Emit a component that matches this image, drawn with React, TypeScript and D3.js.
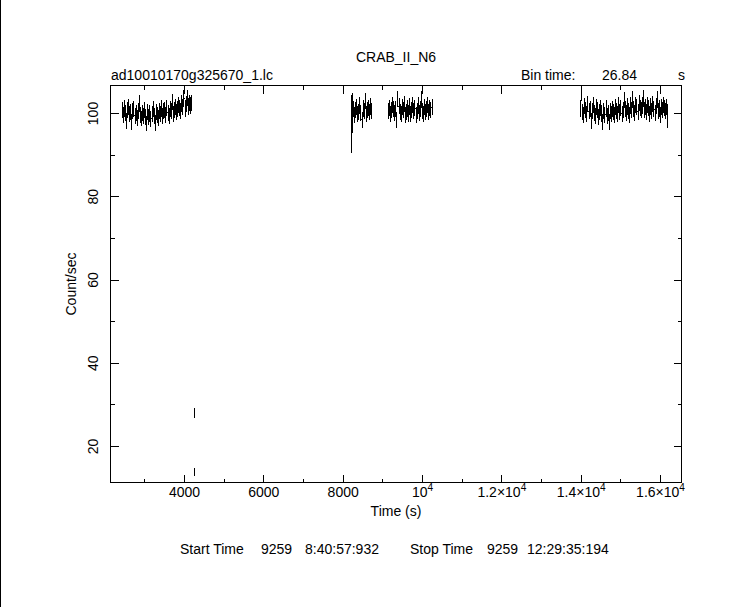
import React from "react";
import * as d3 from "d3";

const binTime = 26.84;

// segment start times (s) and count rates (count/sec)
const seg1Start = 2430;
const seg1Rates = [
  100.8, 99.6, 101.2, 100.1, 98.2, 100.9, 101.5, 99.8, 100.4, 97.9,
  100.7, 101.1, 99.5, 100.2, 99.0, 100.6, 102.4, 99.7, 98.8, 100.1,
  99.4, 100.8, 99.2, 97.6, 100.3, 99.1, 100.0, 98.7, 99.9, 101.0,
  99.3, 97.8, 100.4, 99.6, 99.0, 100.7, 99.8, 101.2, 99.4, 100.5,
  100.9, 99.7, 101.4, 100.2, 99.5, 101.0, 100.6, 102.8, 99.9, 100.8,
  101.5, 100.3, 101.1, 102.0, 101.3, 100.7, 102.4, 101.6, 103.6, 101.2,
  102.2, 103.8, 101.7, 102.5, 101.9, 102.6,
];
const seg2Start = 8206;
const seg2Rates = [
  97.5, 100.1, 101.1, 99.6, 100.8, 101.5, 99.9, 100.4, 101.9, 100.1,
  98.5, 101.2, 100.6, 103.0, 99.8, 100.9, 101.4, 100.3, 101.7, 100.5,
];
const seg3Start = 9139;
const seg3Rates = [
  100.6, 101.4, 99.8, 100.9, 102.0, 101.0, 100.2, 101.1, 98.4, 103.5,
  101.8, 100.3, 99.9, 101.5, 100.8, 102.2, 99.6, 100.4, 101.2, 100.0,
  101.7, 99.8, 100.9, 102.1, 100.5, 101.3, 99.7, 100.6, 101.9, 100.2,
  101.0, 103.4, 100.7, 99.9, 101.6, 100.4, 101.1, 102.0, 100.3, 101.4,
  100.8, 101.5,
];
const seg4Start = 13983;
const seg4Rates = [
  101.2, 105.0, 100.4, 99.6, 101.8, 100.9, 99.8, 102.3, 100.5, 101.1,
  98.2, 100.7, 102.0, 100.2, 99.5, 101.6, 100.8, 99.1, 100.3, 101.4,
  100.0, 97.9, 100.6, 99.7, 101.2, 99.4, 100.1, 98.0, 100.5, 99.9,
  101.0, 100.3, 99.6, 101.5, 100.7, 99.8, 102.1, 100.4, 101.3, 99.9,
  100.8, 103.2, 101.0, 100.1, 101.7, 100.6, 99.7, 101.9, 100.9, 103.4,
  101.1, 100.2, 102.0, 101.5, 100.4, 102.6, 101.3, 100.8, 101.9, 103.6,
  100.9, 101.6, 100.3, 102.1, 101.4, 99.8, 101.7, 100.6, 102.3, 101.0,
  100.1, 101.8, 103.4, 100.7, 101.2, 99.6, 101.5, 100.9, 102.0, 101.3,
  100.5, 101.6, 99.4,
];
const segStarts = [seg1Start, seg2Start, seg3Start, seg4Start];
const segRates = [seg1Rates, seg2Rates, seg3Rates, seg4Rates];

// bins with enlarged error bars (partial exposure): segment, index, error
const partialSeg = [1, 1, 3];
const partialIdx = [0, 1, 82];
const partialErr = [7.0, 4.8, 2.8];

// isolated low bins after the first segment
const outlierTimes = [4240, 4262];
const outlierRates = [28.0, 13.8];
const outlierErrs = [1.2, 1.0];

const xMajorTicks = [4000, 6000, 8000, 10000, 12000, 14000, 16000];
const xTickMant = ["4000", "6000", "8000", "", "1.2", "1.4", "1.6"];
const xTickExp = ["", "", "", "4", "4", "4", "4"];
const xMinorTicks = [3000, 5000, 7000, 9000, 11000, 13000, 15000];
const yMajorTicks = [20, 40, 60, 80, 100];
const yMinorTicks = [30, 50, 70, 90];

const W = 748;
const H = 607;
const L = 110.5, R = 681.5, T = 85.5, B = 482.5;
const FONT = "'Liberation Sans', Arial, sans-serif";

export default function App() {
  const x = d3.scaleLinear().domain([2134, 16529]).range([L, R]);
  const y = d3.scaleLinear().domain([11.35, 106.73]).range([B, T]);

  const bins: { t: number; v: number; e: number }[] = [];
  segRates.forEach((rates, s) => {
    rates.forEach((v, i) => {
      let e = Math.sqrt(v / binTime);
      partialSeg.forEach((ps, k) => {
        if (ps === s && partialIdx[k] === i) e = partialErr[k];
      });
      bins.push({ t: segStarts[s] + i * binTime, v, e });
    });
  });
  outlierTimes.forEach((t, i) => bins.push({ t, v: outlierRates[i], e: outlierErrs[i] }));

  const clipY = (v: number) => Math.max(T, Math.min(B, y(v)));

  const tickLen = 8, minorLen = 4;
  const fs = 14;

  return (
    <svg width={W} height={H} style={{ position: "absolute", left: 0, top: 0, background: "#fff" }}
      fontFamily={FONT}>
      <rect x={0} y={0} width={W} height={H} fill="#fff" />
      <line x1={0.5} y1={0} x2={0.5} y2={H} stroke="#000" strokeWidth={1} />
      {/* data */}
      <g stroke="#000" strokeWidth={1} shapeRendering="crispEdges">
        {bins.map((b, i) => (
          <g key={i}>
            <line x1={x(b.t)} x2={x(b.t)} y1={clipY(b.v - b.e)} y2={clipY(b.v + b.e)} />
            <line x1={x(b.t - binTime / 2)} x2={x(b.t + binTime / 2)} y1={y(b.v)} y2={y(b.v)} />
          </g>
        ))}
      </g>
      {/* frame */}
      <rect x={L} y={T} width={R - L} height={B - T} fill="none" stroke="#000" strokeWidth={1}
        shapeRendering="crispEdges" />
      <g stroke="#000" strokeWidth={1} shapeRendering="crispEdges">
        {xMajorTicks.map((t) => (
          <g key={"xm" + t}>
            <line x1={x(t)} x2={x(t)} y1={B} y2={B - tickLen} />
            <line x1={x(t)} x2={x(t)} y1={T} y2={T + tickLen} />
          </g>
        ))}
        {xMinorTicks.map((t) => (
          <g key={"xn" + t}>
            <line x1={x(t)} x2={x(t)} y1={B} y2={B - minorLen} />
            <line x1={x(t)} x2={x(t)} y1={T} y2={T + minorLen} />
          </g>
        ))}
        {yMajorTicks.map((t) => (
          <g key={"ym" + t}>
            <line x1={L} x2={L + tickLen} y1={y(t)} y2={y(t)} />
            <line x1={R} x2={R - tickLen} y1={y(t)} y2={y(t)} />
          </g>
        ))}
        {yMinorTicks.map((t) => (
          <g key={"yn" + t}>
            <line x1={L} x2={L + minorLen} y1={y(t)} y2={y(t)} />
            <line x1={R} x2={R - minorLen} y1={y(t)} y2={y(t)} />
          </g>
        ))}
      </g>
      {/* x tick labels */}
      <g fontSize={fs} fill="#000" textAnchor="middle">
        {xMajorTicks.map((t, i) => (
          <text key={"xl" + t} x={x(t)} y={497}>
            {xTickMant[i] && xTickExp[i] ? (
              <>
                <tspan>{xTickMant[i]}×10</tspan>
                <tspan dy={-6} fontSize={fs * 0.72}>{xTickExp[i]}</tspan>
              </>
            ) : xTickExp[i] ? (
              <>
                <tspan>10</tspan>
                <tspan dy={-6} fontSize={fs * 0.72}>{xTickExp[i]}</tspan>
              </>
            ) : (
              xTickMant[i]
            )}
          </text>
        ))}
      </g>
      {/* y tick labels */}
      <g fontSize={fs} fill="#000" textAnchor="middle">
        {yMajorTicks.map((t) => (
          <text key={"yl" + t} transform={`translate(98,${y(t)}) rotate(-90)`}>{t}</text>
        ))}
      </g>
      <text x={396} y={516} fontSize={fs} textAnchor="middle">Time (s)</text>
      <text transform={`translate(76,284) rotate(-90)`} fontSize={fs} textAnchor="middle">Count/sec</text>
      <text x={396} y={62} fontSize={fs} textAnchor="middle">CRAB_II_N6</text>
      <text x={111} y={80} fontSize={fs}>ad10010170g325670_1.lc</text>
      <text x={521} y={80} fontSize={fs}>Bin time:</text>
      <text x={602} y={80} fontSize={fs}>26.84</text>
      <text x={678} y={80} fontSize={fs}>s</text>
      <g fontSize={fs}>
        <text x={180} y={554}>Start Time</text>
        <text x={261} y={554}>9259</text>
        <text x={305} y={554}>8:40:57:932</text>
        <text x={410} y={554}>Stop Time</text>
        <text x={487} y={554}>9259</text>
        <text x={527} y={554}>12:29:35:194</text>
      </g>
    </svg>
  );
}
